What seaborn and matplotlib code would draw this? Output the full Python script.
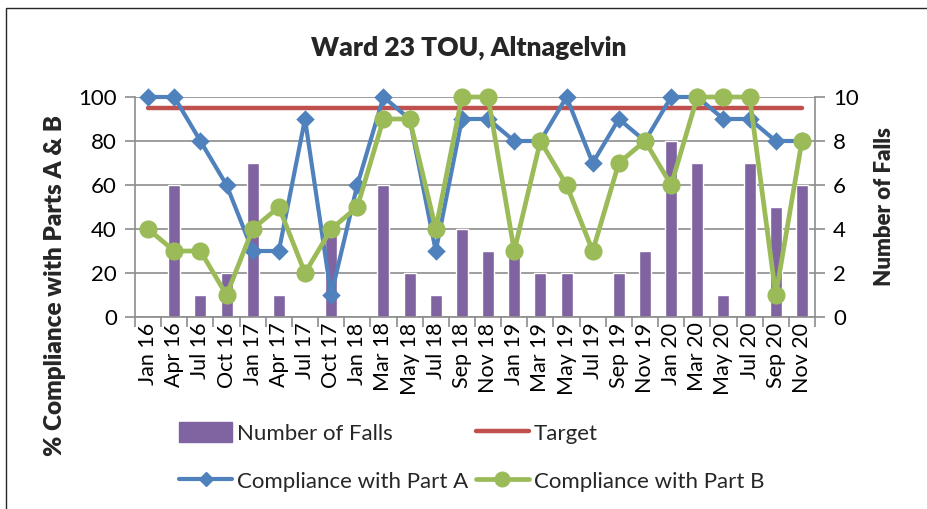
import matplotlib
matplotlib.use("Agg")
import matplotlib.pyplot as plt
import seaborn as sns
import numpy as np
from matplotlib.lines import Line2D
from matplotlib.patches import Patch, Rectangle

categories = ["Jan 16", "Apr 16", "Jul 16", "Oct 16", "Jan 17", "Apr 17", "Jul 17",
              "Oct 17", "Jan 18", "Mar 18", "May 18", "Jul 18", "Sep 18", "Nov 18",
              "Jan 19", "Mar 19", "May 19", "Jul 19", "Sep 19", "Nov 19", "Jan 20",
              "Mar 20", "May 20", "Jul 20", "Sep 20", "Nov 20"]
falls = [0, 6, 1, 2, 7, 1, 0, 4, 0, 6, 2, 1, 4, 3, 3, 2, 2, 0, 2, 3, 8, 7, 1, 7, 5, 6]
target = [95] * len(categories)
part_a = [100, 100, 80, 60, 30, 30, 90, 10, 60, 100, 90, 30, 90, 90, 80, 80, 100, 70,
          90, 80, 100, 100, 90, 90, 80, 80]
part_b = [40, 30, 30, 10, 40, 50, 20, 40, 50, 90, 90, 40, 100, 100, 30, 80, 60, 30,
          70, 80, 60, 100, 100, 100, 10, 80]

sns.set_theme(style="white")
plt.rcParams["font.family"] = ["Lato", "DejaVu Sans"]

C_BAR = "#8064A2"
C_TGT = "#C0504D"
C_A = "#4F81BD"
C_B = "#9BBB59"
C_GRID = "#8C8C8C"

W, H = 928, 509
fig = plt.figure(figsize=(W / 100, H / 100), dpi=100)
fig.patch.set_facecolor("white")
fig.patches.append(Rectangle((6 / W, -0.1), 1.2, 1 - 8 / H + 0.1, transform=fig.transFigure,
                             fill=False, edgecolor="#262626", linewidth=1.0))

L, R, T, B = 135, 815, 97, 317
ax2 = fig.add_axes([L / W, 1 - B / H, (R - L) / W, (B - T) / H])
ax = ax2.twinx()
ax.set_zorder(ax2.get_zorder() + 1)
ax.patch.set_visible(False)

# bars on secondary (right) axis
sns.barplot(x=categories, y=falls, ax=ax2, color=C_BAR, width=0.46, saturation=1)
ax2.set_ylim(0, 10)
ax2.set_yticks(range(0, 11, 2))
ax2.yaxis.tick_right()
ax2.yaxis.set_label_position("right")
ax2.yaxis.grid(True, color=C_GRID, linewidth=1.2)
ax2.set_axisbelow(True)

# lines on primary (left) axis
sns.pointplot(x=categories, y=target, ax=ax, color=C_TGT, markers="none",
              linewidth=3.2, errorbar=None)
sns.pointplot(x=categories, y=part_a, ax=ax, color=C_A, markers="D",
              markersize=7, linewidth=3.0, errorbar=None)
sns.pointplot(x=categories, y=part_b, ax=ax, color=C_B, markers="o",
              markersize=10.5, linewidth=3.4, errorbar=None)
for ln in ax.lines:
    ln.set_clip_on(False)
ax.set_ylim(0, 100)
ax.set_yticks(range(0, 101, 20))
ax.yaxis.tick_left()
ax.set_xlim(-0.5, len(categories) - 0.5)
ax2.set_xlim(-0.5, len(categories) - 0.5)

for a in (ax, ax2):
    a.set_xlabel("")
    a.set_ylabel("")
    for s in a.spines.values():
        s.set_visible(False)
for side in ("left", "right", "bottom"):
    ax.spines[side].set_visible(True)
    ax.spines[side].set_color(C_GRID)
    ax.spines[side].set_linewidth(1.2)

ax.tick_params(axis="y", which="major", left=True, right=False, length=7, width=1.2,
               color=C_GRID, labelsize=16, labelcolor="black", pad=6)
ax2.tick_params(axis="y", which="major", right=True, left=False, length=7, width=1.2,
                color=C_GRID, labelsize=16, labelcolor="black", pad=6)
ax.tick_params(axis="x", which="both", bottom=False, labelbottom=False)
ax2.set_xticks(range(len(categories)))
ax2.set_xticklabels(categories, rotation=90, fontsize=15.5, color="black")
ax2.set_xticks(np.arange(-0.5, len(categories), 1.0), minor=True)
ax2.tick_params(axis="x", which="major", length=0, pad=4)
ax2.tick_params(axis="x", which="minor", bottom=True, length=7, width=1.2, color=C_GRID)

fig.text(0.5 * (311 + 627) / W, 1 - 48 / H, "Ward 23 TOU, Altnagelvin", ha="center",
         va="center", fontsize=19, fontweight="heavy")
fig.text(55 / W, 1 - 285 / H, "% Compliance with Parts A & B", rotation=90, ha="center",
         va="center", fontsize=17.5, fontweight="heavy")
fig.text(885 / W, 1 - 207 / H, "Number of Falls", rotation=90, ha="center",
         va="center", fontsize=16, fontweight="heavy")

handles = [
    Patch(facecolor=C_BAR, edgecolor=C_BAR),
    Line2D([], [], color=C_A, linewidth=3.0, marker="D", markersize=7),
    Line2D([], [], color=C_TGT, linewidth=3.2),
    Line2D([], [], color=C_B, linewidth=3.4, marker="o", markersize=10.5),
]
labels = ["Number of Falls", "Compliance with Part A", "Target", "Compliance with Part B"]
fig.legend(handles, labels, ncol=2, loc="upper left",
           bbox_to_anchor=(179 / W, 1 - 422 / H), frameon=False, fontsize=16,
           handlelength=2.4, handleheight=1.0, handletextpad=0.2, columnspacing=0.35,
           labelspacing=1.2, borderpad=0, borderaxespad=0)

fig.savefig("out.png", dpi=100, facecolor="white")
